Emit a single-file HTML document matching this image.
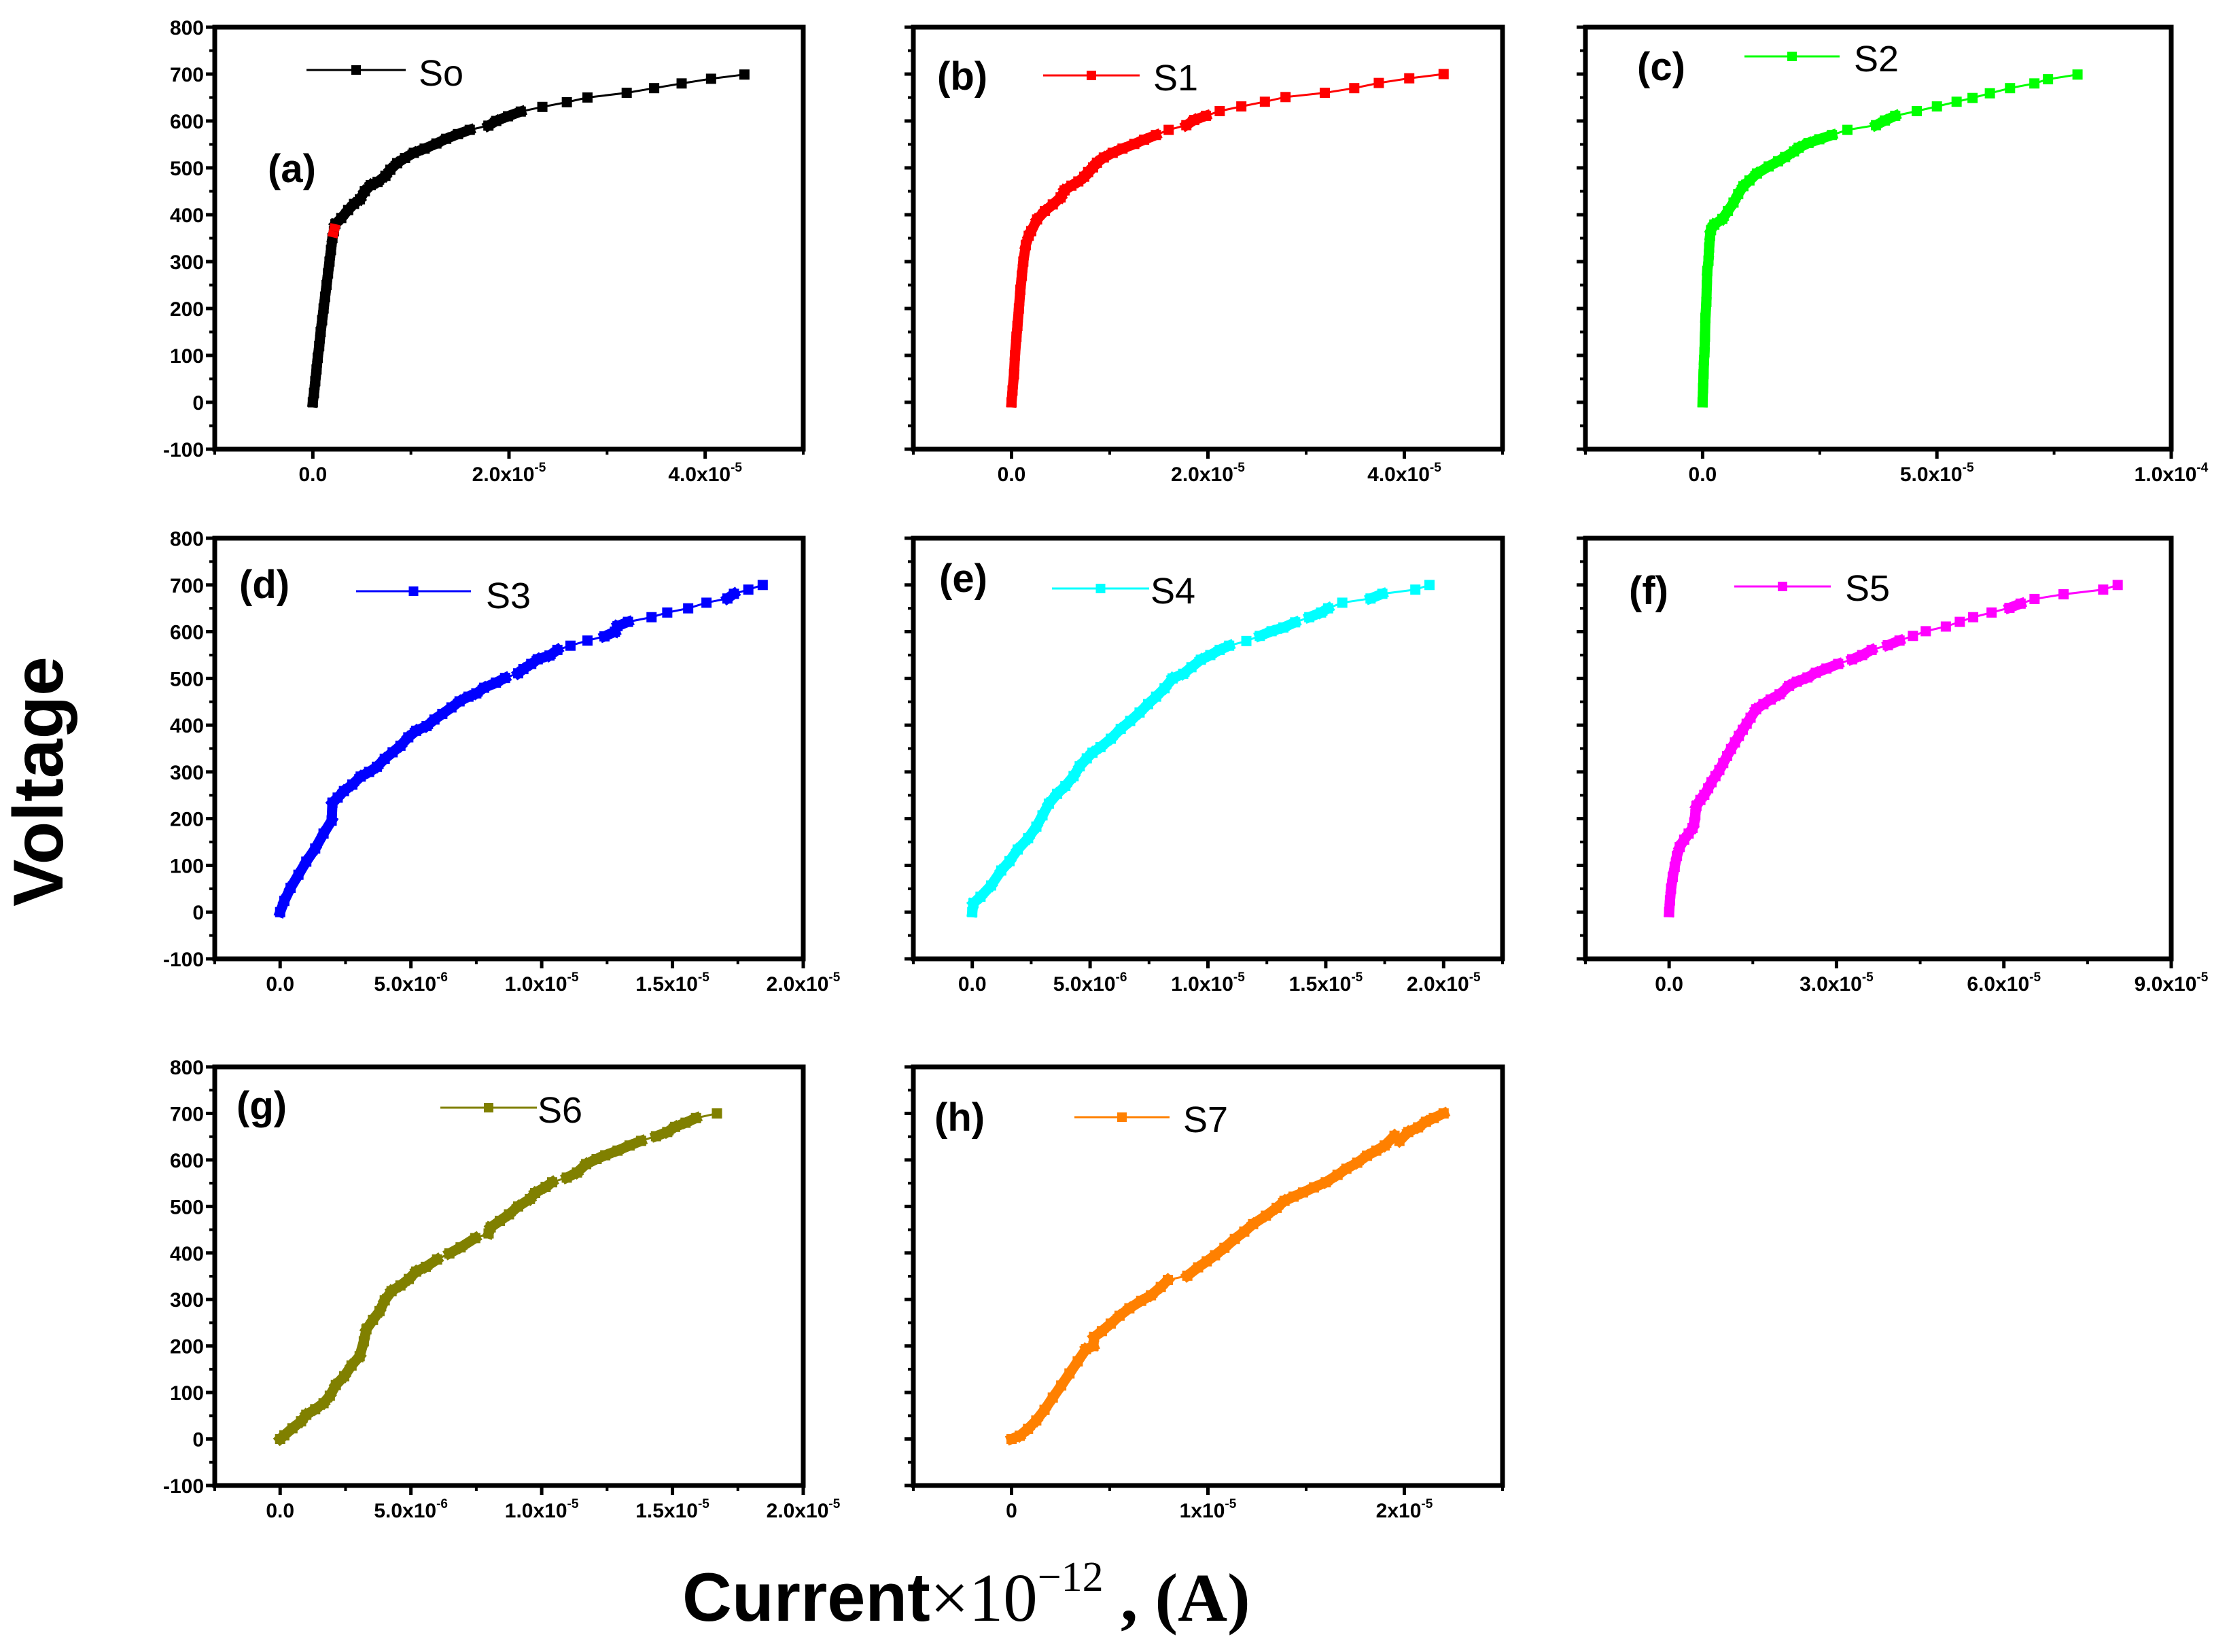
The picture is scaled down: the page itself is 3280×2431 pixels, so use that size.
<!DOCTYPE html>
<html><head><meta charset="utf-8"><title>I-V curves</title>
<style>html,body{margin:0;padding:0;background:#fff}svg{display:block}</style></head>
<body>
<svg id="fig" xmlns="http://www.w3.org/2000/svg" width="3280" height="2431" viewBox="0 0 3280 2431">
<rect x="0" y="0" width="3280" height="2431" fill="#fff"/>
<text transform="translate(92,1150) rotate(-90)" text-anchor="middle" font-family="Liberation Sans, sans-serif" font-weight="bold" font-size="104">Voltage</text>
<text x="1004" y="2385" font-family="Liberation Sans, sans-serif" font-size="101"><tspan font-weight="bold">Current</tspan><tspan font-family="Liberation Serif, serif">×10</tspan><tspan font-family="Liberation Serif, serif" font-size="62" dy="-44">−12</tspan><tspan font-family="Liberation Serif, serif" font-weight="bold" dy="44"> , (A)</tspan></text>
</svg>
<script>
// current values in units of 1e-6 A, voltage in V
const s0Current=[0,0.12,0.25,0.38,0.5,0.65,0.8,0.95,1.1,1.25,1.4,1.55,1.7,1.85,2.0,2.15,2.3,2.9,3.6,4.2,4.8,5.3,5.9,6.6,7.4,7.9,8.6,9.4,10.3,11.4,12.6,13.6,14.8,16,17.9,18.7,19.9,21.2,23.4,25.9,28,32,34.8,37.6,40.6,44];
const s0Voltage=[0,20,45,70,95,120,150,175,200,225,250,275,300,325,350,365,380,393,410,423,433,450,463,470,483,496,510,521,532,541,552,562,572,581,590,600,610,620,630,640,650,660,670,680,690,699];
const s0RedCurrent=[2.0,2.15,2.3];
const s0RedVoltage=[352,365,380];
const s1Current=[0,0.1,0.25,0.35,0.5,0.6,0.75,0.9,1.05,1.2,1.45,1.75,2.0,2.6,3.4,4.2,5.0,5.4,6.1,6.8,7.4,7.8,8.3,8.7,9.4,10.3,11.3,12.5,13.5,14.7,16,17.8,18.6,19.8,21.2,23.4,25.8,27.9,31.9,34.9,37.4,40.5,44];
const s1Voltage=[0,25,60,100,140,163,200,240,270,300,335,355,365,390,408,422,437,452,462,471,481,491,501,511,522,532,541,551,560,570,581,591,602,611,621,631,641,651,660,670,681,691,700];
const s2Current=[0,0.1,0.2,0.3,0.4,0.5,0.6,0.8,0.9,1.0,1.25,1.4,1.6,1.8,2.5,4.2,5.4,6.6,7.6,8.7,10,11.6,14.1,16.1,17.6,19.5,20.5,22.6,24.9,27.6,30.9,37,38.9,41.1,45.7,50,54.2,57.6,61.3,65.6,70.8,73.7,80];
const s2Voltage=[0,30,60,90,107,140,180,214,250,280,302,330,355,367,379,391,408,426,444,461,473,488,503,514,523,535,543,553,561,570,581,591,601,611,621,631,641,649,659,670,680,689,699];
const s3Current=[0,0.16,0.4,0.7,1.0,1.34,1.66,1.97,2.0,2.2,2.44,2.76,3.08,3.4,3.7,4.0,4.3,4.6,4.9,5.2,5.6,5.9,6.2,6.55,6.86,7.2,7.5,7.8,8.25,8.6,9.1,9.3,9.6,9.85,10.3,10.6,11.1,11.75,12.4,12.8,12.9,13.3,14.2,14.8,15.6,16.3,17.1,17.35,17.9,18.45];
const s3Voltage=[0,24,52,80,108,136,168,196,234,245,259,273,290,300,311,328,342,356,374,388,398,412,424,438,451,461,468,480,491,501,511,520,531,541,549,561,570,581,590,600,612,621,631,641,650,662,671,681,690,700];
const s4Current=[0,0.05,0.35,0.8,1.23,1.58,1.93,2.37,2.72,2.98,3.25,3.6,3.95,4.3,4.56,4.86,5.1,5.44,5.88,6.3,6.7,7.1,7.46,7.8,8.16,8.5,8.95,9.3,9.7,10.1,10.5,10.9,11.63,12.2,12.7,13.2,13.7,14.3,14.8,15.1,15.7,16.9,17.4,18.8,19.4];
const s4Voltage=[0,19,33,57,89,109,134,158,183,207,232,253,270,291,312,329,341,353,371,392,409,427,445,461,479,500,510,524,540,550,561,570,580,591,601,609,620,631,641,650,662,671,681,690,700];
const s5Current=[0,0.15,0.35,0.65,1.0,1.4,1.9,2.7,3.5,4.2,4.5,4.7,4.9,5.6,6.3,7.0,7.6,8.3,9.0,9.7,10.4,11.1,11.8,12.5,13.2,13.9,14.6,15.6,16.9,18.2,19.8,21.5,22.9,24.8,26.3,28.2,30.3,32.8,34.6,36.3,39.2,41.3,43.7,46,49.6,52.1,54.5,57.8,61,63,65.5,70.7,77.8,80.4];
const s5Voltage=[0,25,50,75,97,120,139,155,168,180,192,210,227,240,251,265,278,291,304,319,334,349,363,377,390,403,416,434,445,455,466,484,493,502,512,521,531,541,550,561,571,581,591,601,611,621,631,641,651,660,670,680,690,700];
const s6Current=[0,0.16,0.47,0.8,1.0,1.34,1.66,1.9,2.13,2.45,2.73,3.04,3.2,3.3,3.55,3.8,4.0,4.26,4.6,4.92,5.2,5.57,6.0,6.47,6.9,7.46,7.97,8.05,8.4,8.75,9.1,9.55,9.75,10.15,10.4,10.96,11.35,11.7,12.1,12.43,12.9,13.36,13.8,14.37,14.8,15.1,15.5,15.9,16.7];
const s6Voltage=[0,8,23,38,52,64,77,93,116,135,158,178,210,236,256,275,298,318,330,344,360,370,386,399,412,432,442,455,469,483,500,516,529,542,552,562,573,591,602,610,620,631,641,651,660,671,680,690,700];
const s7Current=[0,0.42,0.84,1.26,1.68,2.1,2.53,2.95,3.37,3.79,4.17,4.2,4.6,5.05,5.5,6.0,6.6,7.1,7.6,7.96,8.95,9.5,9.94,10.36,10.84,11.37,11.85,12.3,12.95,13.5,13.9,14.36,14.84,15.4,16,16.6,17.05,17.6,18.1,18.57,19,19.5,19.75,20.2,20.7,21.1,21.5,22];
const s7Voltage=[0,7,22,40,63,89,115,141,167,193,200,219,232,248,265,281,297,309,327,342,351,369,382,395,411,430,446,462,480,497,512,521,530,541,552,568,581,594,609,620,631,652,641,660,670,682,690,700];

const yTickValues=[-100,0,100,200,300,400,500,600,700,800];
const yMinorValues=[-50,50,150,250,350,450,550,650,750];
const seriesNames=['So','S1','S2','S3','S4','S5','S6','S7'];
const panelLetters=['(a)','(b)','(c)','(d)','(e)','(f)','(g)','(h)'];
const ticksAB=[0,20,40]; const labelsAB=[['0.0',''],['2.0x10','-5'],['4.0x10','-5']]; const minorAB=[-10,10,30,50];
const ticksC=[0,50,100]; const labelsC=[['0.0',''],['5.0x10','-5'],['1.0x10','-4']]; const minorC=[-25,25,75];
const ticksDEG=[0,5,10,15,20]; const labelsDEG=[['0.0',''],['5.0x10','-6'],['1.0x10','-5'],['1.5x10','-5'],['2.0x10','-5']]; const minorDEG=[-2.5,2.5,7.5,12.5,17.5,22.5];
const ticksF=[0,30,60,90]; const labelsF=[['0.0',''],['3.0x10','-5'],['6.0x10','-5'],['9.0x10','-5']]; const minorF=[-15,15,45,75];
const ticksH=[0,10,20]; const labelsH=[['0',''],['1x10','-5'],['2x10','-5']]; const minorH=[-5,5,15,25];

const NS='http://www.w3.org/2000/svg';
const svg=document.getElementById('fig');
function mk(tag,attrs,parent){const e=document.createElementNS(NS,tag);for(const k in attrs)e.setAttribute(k,attrs[k]);(parent||svg).appendChild(e);return e;}

const cols=[[316,1182],[1344,2211],[2333,3195]];
const rows=[[40,661],[792,1411],[1570,2186]];
const panels=[
 {c:0,r:0,xs:s0Current,ys:s0Voltage,color:'#000000',xmin:-10,xmax:50,ticks:ticksAB,labels:labelsAB,minor:minorAB,leg:[451,597,103],legText:[616,126],lab:[394,268]},
 {c:1,r:0,xs:s1Current,ys:s1Voltage,color:'#ff0000',xmin:-10,xmax:50,ticks:ticksAB,labels:labelsAB,minor:minorAB,leg:[1535,1677,111],legText:[1697,133],lab:[1379,132]},
 {c:2,r:0,xs:s2Current,ys:s2Voltage,color:'#00ff00',xmin:-25,xmax:100,ticks:ticksC,labels:labelsC,minor:minorC,leg:[2567,2707,83],legText:[2728,105],lab:[2409,118]},
 {c:0,r:1,xs:s3Current,ys:s3Voltage,color:'#0000ff',xmin:-2.5,xmax:20,ticks:ticksDEG,labels:labelsDEG,minor:minorDEG.slice(0,5),leg:[524,693,870],legText:[715,895],lab:[352,880]},
 {c:1,r:1,xs:s4Current,ys:s4Voltage,color:'#00ffff',xmin:-2.5,xmax:22.5,ticks:ticksDEG,labels:labelsDEG,minor:minorDEG,leg:[1548,1691,866],legText:[1693,888],lab:[1382,871]},
 {c:2,r:1,xs:s5Current,ys:s5Voltage,color:'#ff00ff',xmin:-15,xmax:90,ticks:ticksF,labels:labelsF,minor:minorF,leg:[2552,2694,863],legText:[2715,884],lab:[2397,889]},
 {c:0,r:2,xs:s6Current,ys:s6Voltage,color:'#808000',xmin:-2.5,xmax:20,ticks:ticksDEG,labels:labelsDEG,minor:minorDEG.slice(0,5),leg:[648,790,1630],legText:[791,1652],lab:[348,1647]},
 {c:1,r:2,xs:s7Current,ys:s7Voltage,color:'#ff8000',xmin:-5,xmax:25,ticks:ticksH,labels:labelsH,minor:minorH,leg:[1581,1721,1644],legText:[1741,1666],lab:[1375,1664]}
];
const FONT='Liberation Sans, sans-serif';
const M=15;

panels.forEach((p,i)=>{
  const L=cols[p.c][0],R=cols[p.c][1],T=rows[p.r][0],B=rows[p.r][1];
  const g=mk('g',{});
  
  
  const X=v=>L+(v-p.xmin)/(p.xmax-p.xmin)*(R-L);
  const Y=v=>B-(v+100)/900*(B-T);
  yTickValues.forEach(v=>{
    const t=mk('line',{x1:L-13,x2:L,y1:Y(v),y2:Y(v),stroke:'#000','stroke-width':5},g);
    
    
    if(p.c===0){
      const tl=mk('text',{x:L-16,y:Y(v)+11,'text-anchor':'end','font-family':FONT,'font-weight':'bold','font-size':30},g);
      tl.textContent=String(v);
      
      
    }
  });
  yMinorValues.forEach(v=>{mk('line',{x1:L-8,x2:L,y1:Y(v),y2:Y(v),stroke:'#000','stroke-width':4},g);});
  p.ticks.forEach((v,k)=>{
    const t=mk('line',{x1:X(v),x2:X(v),y1:B,y2:B+14,stroke:'#000','stroke-width':5},g);
    
    
    const tl=mk('text',{x:X(v),y:B+47,'text-anchor':'middle','font-family':FONT,'font-weight':'bold','font-size':30},g);
    
    
    tl.appendChild(document.createTextNode(p.labels[k][0]));
    if(p.labels[k][1]){const ts=mk('tspan',{dy:-14,'font-size':19},tl);ts.textContent=p.labels[k][1];}
  });
  p.minor.forEach(v=>{mk('line',{x1:X(v),x2:X(v),y1:B,y2:B+8,stroke:'#000','stroke-width':4},g);});
  const fr=mk('rect',{x:L,y:T,width:R-L,height:B-T,fill:'none',stroke:'#000','stroke-width':7},g);
  
  
  const sg=mk('g',{},g);
  
  
  const pts=p.xs.map((x,k)=>[X(x),Y(p.ys[k])]);
  mk('polyline',{points:pts.map(q=>q.join(',')).join(' '),fill:'none',stroke:p.color,'stroke-width':3},sg);
  for(let k=1;k<pts.length;k++){
    const dx=Math.abs(pts[k][0]-pts[k-1][0]),dy=Math.abs(pts[k][1]-pts[k-1][1]);
    const d=Math.hypot(dx,dy);
    if(d<34 && (dy>=0.6*dx || d<20)) mk('line',{x1:pts[k-1][0],y1:pts[k-1][1],x2:pts[k][0],y2:pts[k][1],stroke:p.color,'stroke-width':M,'stroke-linecap':'square'},sg);
  }
  pts.forEach(q=>{
    const m=mk('rect',{x:q[0]-M/2,y:q[1]-M/2,width:M,height:M,fill:p.color},sg);
    
    
  });
  if(i===0){
    const rp=s0RedCurrent.map((x,k)=>[X(x),Y(s0RedVoltage[k])]);
    for(let k=1;k<rp.length;k++) mk('line',{x1:rp[k-1][0],y1:rp[k-1][1],x2:rp[k][0],y2:rp[k][1],stroke:'#ff0000','stroke-width':M},sg);
  }
  const lg=mk('g',{},g);
  
  
  mk('line',{x1:p.leg[0],x2:p.leg[1],y1:p.leg[2],y2:p.leg[2],stroke:p.color,'stroke-width':3},lg);
  const mid=(p.leg[0]+p.leg[1])/2;
  mk('rect',{x:mid-7,y:p.leg[2]-7,width:14,height:14,fill:p.color},lg);
  const lt=mk('text',{x:p.legText[0],y:p.legText[1],'font-family':FONT,'font-size':54,fill:'#000'},lg);
  lt.textContent=seriesNames[i];
  const pl=mk('text',{x:p.lab[0],y:p.lab[1],'font-family':FONT,'font-weight':'bold','font-size':58},g);
  pl.textContent=panelLetters[i];
  
  
});
</script>
</body></html>
